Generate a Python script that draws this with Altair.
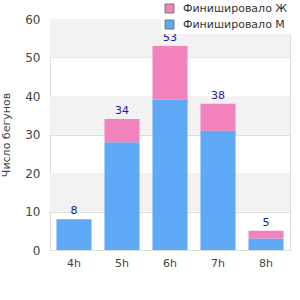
import altair as alt
import pandas as pd

categories = ["4h", "5h", "6h", "7h", "8h"]
male = [8, 28, 39, 31, 3]
female = [0, 6, 14, 7, 2]
totals = [m + f for m, f in zip(male, female)]
series_m = "Финишировало М"
series_f = "Финишировало Ж"
band_lo = [10, 30, 50]
band_hi = [20, 40, 60]
y_ticks = [0, 10, 20, 30, 40, 50, 60]

rows = []
for c, m, f in zip(categories, male, female):
    rows.append({"cat": c, "series": series_m, "value": m, "ord": 0})
    rows.append({"cat": c, "series": series_f, "value": f, "ord": 1})
df = pd.DataFrame(rows)
tot_df = pd.DataFrame({"cat": categories, "total": totals})
bands_df = pd.DataFrame({"lo": band_lo, "hi": band_hi})

FONT = "DejaVu Sans"
yscale = alt.Scale(domain=[0, 60], nice=False)
xscale = alt.Scale(paddingInner=0.27, paddingOuter=0.135)

yaxis = alt.Axis(title="Число бегунов", values=y_ticks, tickCount=7,
                 labelOverlap=False, ticks=False, domain=False, grid=True,
                 gridColor="#dddddd", labelPadding=10, labelFontSize=12,
                 labelColor="#444", labelFont=FONT, titleFont=FONT,
                 titleFontSize=11, titleColor="#444",
                 titleFontWeight="normal", titlePadding=13)
xaxis = alt.Axis(title=None, labelAngle=0, ticks=False, domain=False,
                 grid=False, labelPadding=7, labelFontSize=11,
                 labelColor="#444", labelFont=FONT)

bands = alt.Chart(bands_df).mark_rect(color="#f2f2f2").encode(
    x=alt.value(0), x2=alt.value(240),
    y=alt.Y("lo:Q", scale=yscale, axis=yaxis), y2="hi:Q",
)

bars = alt.Chart(df).mark_bar().encode(
    x=alt.X("cat:N", scale=xscale, sort=categories, axis=xaxis),
    y=alt.Y("value:Q", scale=yscale, stack="zero", axis=yaxis),
    color=alt.Color("series:N",
                    scale=alt.Scale(domain=[series_f, series_m],
                                    range=["#f282bc", "#5fa8f5"]),
                    legend=alt.Legend(title=None, orient="none", legendX=111,
                                      legendY=-19, fillColor="white",
                                      padding=3, symbolType="square",
                                      symbolSize=81, symbolStrokeColor="#777",
                                      symbolStrokeWidth=1, labelFont=FONT,
                                      labelFontSize=11, labelColor="#333",
                                      rowPadding=3, labelOffset=8,
                                      labelLimit=200)),
    order=alt.Order("ord:Q"),
)

labels = alt.Chart(tot_df).mark_text(baseline="bottom", dy=-3, color="#1a1a99",
                                     font=FONT, fontSize=11).encode(
    x=alt.X("cat:N", scale=xscale, sort=categories, axis=xaxis),
    y=alt.Y("total:Q", scale=yscale, axis=yaxis),
    text="total:Q",
)

chart = alt.layer(bands, bars, labels).properties(
    width=240, height=231,
    autosize=alt.AutoSizeParams(type="none"),
    padding={"left": 50, "top": 19, "right": 10, "bottom": 50},
).configure_view(stroke="#dddddd", strokeWidth=1)

chart.save("out.html", embed_options={"renderer": "svg", "actions": False})
